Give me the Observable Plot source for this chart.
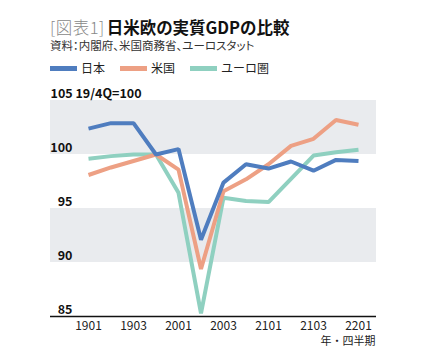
<!DOCTYPE html>
<html><head><meta charset="utf-8">
<script src="https://cdn.jsdelivr.net/npm/d3@7"></script>
<script src="https://cdn.jsdelivr.net/npm/@observablehq/plot@0.6"></script>
<style>
body{margin:0;background:#fff;font-family:"Noto Sans CJK JP","Noto Sans",sans-serif;}
#wrap{position:relative;width:424px;height:357px;overflow:hidden;}
#title{position:absolute;left:50px;top:17px;font-size:16.5px;line-height:20px;font-weight:700;color:#111;white-space:nowrap;font-feature-settings:"palt";}
#title .pre{font-weight:300;color:#888;margin-right:2px;letter-spacing:0.5px;}
#sub{position:absolute;left:50px;top:38px;font-size:11.5px;line-height:15px;color:#333;white-space:nowrap;font-feature-settings:"palt";}
#legend{position:absolute;left:50px;top:61px;font-size:12px;line-height:14px;color:#222;display:flex;align-items:center;white-space:nowrap;}
#legend .sw{display:inline-block;width:27px;height:5px;margin-right:4px;}
#legend .it{display:flex;align-items:center;margin-right:15px;}
#chart{position:absolute;left:0;top:78px;}
</style></head>
<body><div id="wrap">
<div id="title"><span class="pre">[図表1]</span>日米欧の実質GDPの比較</div>
<div id="sub">資料：内閣府、米国商務省、ユーロスタット</div>
<div id="legend"></div>
<div id="chart"></div>
</div>
<script>
const quarters = ["1901","1902","1903","1904","2001","2002","2003","2004","2101","2102","2103","2104","2201"];
const seriesNames = ["日本","米国","ユーロ圏"];
const seriesColors = ["#4f7dbf","#eda084","#8fd0c0"];
const japan = [102.4,102.9,102.9,100.0,100.5,92.1,97.4,99.1,98.7,99.35,98.5,99.5,99.4];
const us    = [98.1,98.8,99.4,100.0,98.6,89.4,96.6,97.7,99.1,100.8,101.45,103.2,102.75];
const euro  = [99.6,99.85,100.0,100.0,96.45,85.3,96.0,95.7,95.6,97.75,99.9,100.2,100.45];
const yTicks = [85,90,95,100,105];
const xTickLabels = ["1901","1903","2001","2003","2101","2103","2201"];
const bands = [{y1:100,y2:105},{y1:90,y2:95}];

const lg = document.getElementById("legend");
seriesNames.forEach((n,i)=>{
  const it=document.createElement("span");it.className="it";
  const sw=document.createElement("span");sw.className="sw";sw.style.background=seriesColors[i];
  it.appendChild(sw);it.appendChild(document.createTextNode(n));lg.appendChild(it);
});

const rows = [];
[japan,us,euro].forEach((arr,s)=>arr.forEach((v,i)=>rows.push({i,v,s:seriesNames[s]})));
const drawOrder = ["ユーロ圏","米国","日本"];
const ordered = drawOrder.flatMap(n=>rows.filter(r=>r.s===n));

const chart = Plot.plot({
  width:424, height:279,
  marginLeft:50, marginRight:48, marginTop:22, marginBottom:41,
  style:{fontFamily:'"Noto Sans CJK JP","Noto Sans",sans-serif', fontSize:"12px", color:"#222", background:"transparent"},
  x:{type:"linear", domain:[-1.689,12.8], axis:null},
  y:{domain:[85,105], axis:null},
  color:{domain:seriesNames, range:seriesColors},
  marks:[
    Plot.rect(bands,{y1:"y1",y2:"y2",fill:"#e9ebee"}),
    Plot.line(ordered,{x:"i",y:"v",z:"s",stroke:"s",strokeWidth:4,strokeLinejoin:"miter",strokeLinecap:"butt"}),
    Plot.ruleY([85],{stroke:"#111",strokeWidth:1.5}),
    Plot.text(yTicks.filter(t=>t!==105),{y:d=>d,text:d=>String(d),frameAnchor:"left",dx:22,dy:-7,textAnchor:"end",fontWeight:"bold",fontSize:12.5,fill:"#111"}),
    Plot.text([105],{y:d=>d,text:d=>d+" 19/4Q=100",frameAnchor:"left",dx:0,dy:-7,textAnchor:"start",fontWeight:"bold",fontSize:12.5,fill:"#111"}),
    Plot.text(xTickLabels,{x:d=>quarters.indexOf(d),y:85,text:d=>d,dy:10,fontSize:12,fill:"#222"}),
    Plot.text(["年・四半期"],{frameAnchor:"bottom-right",lineAnchor:"middle",dy:25,dx:-1,textAnchor:"end",fontSize:11,fill:"#222"})
  ]
});
document.getElementById("chart").appendChild(chart);
</script>
</body></html>
